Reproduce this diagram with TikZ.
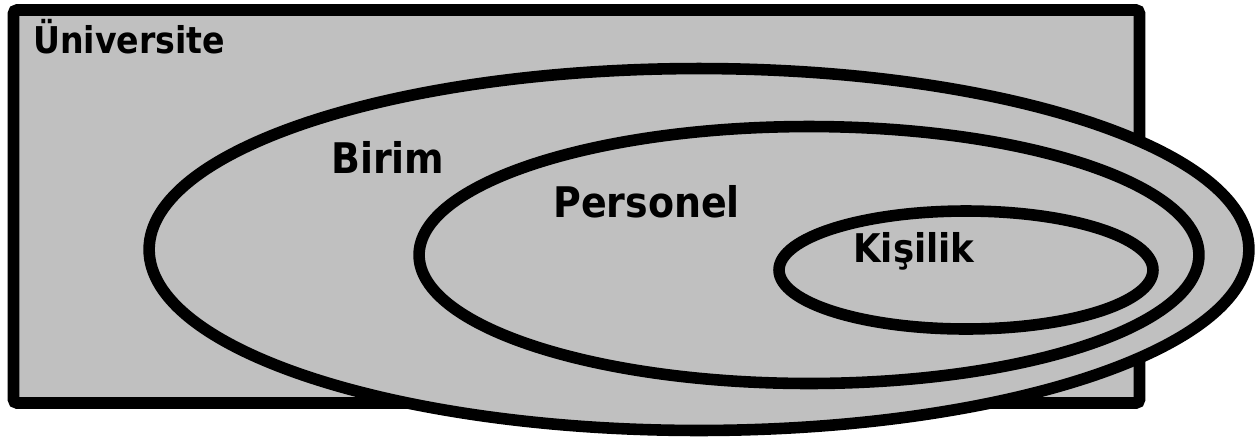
\documentclass[tikz,border=0pt]{standalone}
\usepackage{fontspec}
\newfontfamily\labfont{DejaVu Sans Condensed}[BoldFont={DejaVu Sans Condensed Bold}]
\definecolor{setgray}{HTML}{C0C0C0}
\tikzset{
  setshape/.style={draw=black, fill=setgray, line width=6.6pt},
  setlabel/.style={anchor=base west, inner sep=0pt, font=\labfont\bfseries\fontsize{24pt}{24pt}\selectfont}
}
\begin{document}
\begin{tikzpicture}[x=0.02cm,y=-0.02cm]
\useasboundingbox (0,0) rectangle (1255,441);
% University rectangle
\draw[setshape, rounded corners=2pt] (13.5,10) rectangle (1139.5,403);
% Birim ellipse
\draw[setshape] (699,249.5) ellipse [x radius=11cm, y radius=3.62cm];
% Personel ellipse
\draw[setshape] (809,255) ellipse [x radius=7.8cm, y radius=2.57cm];
% Kisilik ellipse
\draw[setshape] (966,270) ellipse [x radius=3.74cm, y radius=1.18cm];
\node[setlabel, font=\labfont\bfseries\fontsize{21pt}{21pt}\selectfont] (uni) at (33,53) {Üniversite};
\node[setlabel] (birim) at (331,173) {Birim};
\node[setlabel] (personel) at (553,217) {Personel};
\node[setlabel, font=\labfont\bfseries\fontsize{22.5pt}{22.5pt}\selectfont] (kisilik) at (853,262) {Kişilik};
\end{tikzpicture}
\end{document}
